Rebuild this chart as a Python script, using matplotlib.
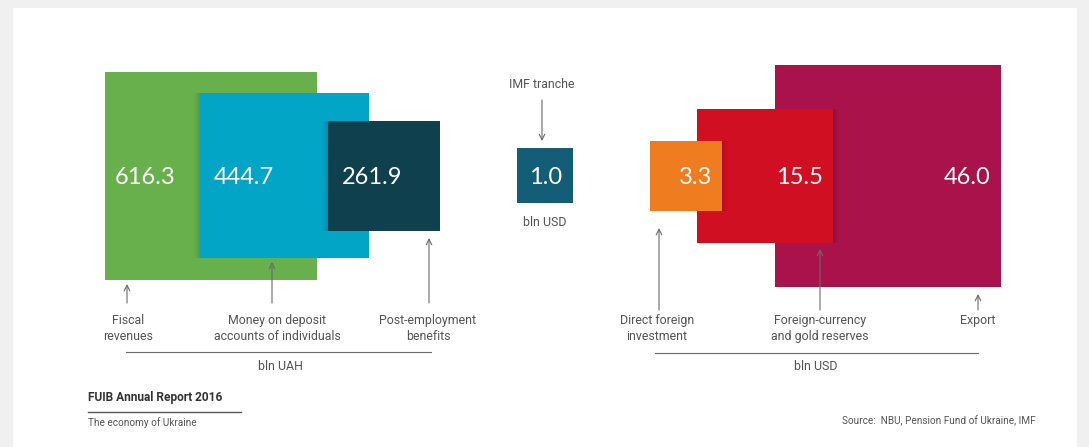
import matplotlib
matplotlib.use("Agg")
import matplotlib.pyplot as plt
from matplotlib.patches import Rectangle
from matplotlib import font_manager as fm

# ---------------- data ----------------
uah_labels = ["Fiscal\nrevenues", "Money on deposit\naccounts of individuals", "Post-employment\nbenefits"]
uah_values = [616.3, 444.7, 261.9]
uah_unit = "bln UAH"

imf_label = "IMF tranche"
imf_value = 1.0
imf_unit = "bln USD"

usd_labels = ["Direct foreign\ninvestment", "Foreign-currency\nand gold reserves", "Export"]
usd_values = [3.3, 15.5, 46.0]
usd_unit = "bln USD"

title = "FUIB Annual Report 2016"
subtitle = "The economy of Ukraine"
source = "Source:  NBU, Pension Fund of Ukraine, IMF"

# ---------------- layout / style (pixel coords, y down) ----------------
uah_colors = ["#67b04b", "#02a5c6", "#0e404d"]
usd_colors = ["#ef7c1e", "#d00f23", "#a9124a"]
imf_color = "#135e76"
txt_gray = "#555555"
line_gray = "#6a6a6a"

uah_boxes = [(105, 72, 317, 280), (200, 93, 369, 258), (328, 121, 440, 231)]
usd_boxes = [(650, 141, 722, 211), (697, 109, 833, 243), (775, 65, 1001, 287)]
imf_box = (517, 148, 573, 203)

uah_arrows = [(127, 303, 284), (272, 303, 262), (429, 303, 238)]
usd_arrows = [(659, 310, 228), (820, 310, 249), (978, 310, 294)]

avail = {f.name for f in fm.fontManager.ttflist}
label_font = "Roboto" if "Roboto" in avail else "Liberation Sans"
numfont = "Lato" if "Lato" in avail else "DejaVu Sans"
LBL = 8.9

W, H = 1089, 447
fig = plt.figure(figsize=(W / 100, H / 100), dpi=100)
fig.patch.set_facecolor("#f0f0f0")
ax = fig.add_axes([0, 0, 1, 1])
ax.set_xlim(0, W)
ax.set_ylim(H, 0)
ax.axis("off")

ax.add_patch(Rectangle((13, 8), 1077 - 13, H - 8, facecolor="white", edgecolor="none", zorder=0))


def shadow(box, side, z):
    x0, y0, x1, y1 = box
    for i, a in enumerate([0.06, 0.04, 0.02]):
        w = 2 * (i + 1)
        if side == "left":
            ax.add_patch(Rectangle((x0 - w, y0), w, y1 - y0, facecolor="black", alpha=a,
                                   edgecolor="none", zorder=z - 0.5))
        else:
            ax.add_patch(Rectangle((x1, y0), w, y1 - y0, facecolor="black", alpha=a,
                                   edgecolor="none", zorder=z - 0.5))


def box(b, color, z):
    x0, y0, x1, y1 = b
    ax.add_patch(Rectangle((x0, y0), x1 - x0, y1 - y0, facecolor=color, edgecolor="none", zorder=z))


# UAH group (largest at bottom)
for i, (b, c) in enumerate(zip(uah_boxes, uah_colors)):
    if i > 0:
        shadow(b, "left", 2 + i)
    box(b, c, 2 + i)
    ax.text(b[0] + (10 if i == 0 else 14), 177, f"{uah_values[i]:.1f}", color="white",
            fontsize=17, family=numfont, ha="left", va="center", zorder=10)

# USD group (largest at bottom)
for i in reversed(range(3)):
    b = usd_boxes[i]
    z = 2 + (2 - i)
    if i < 2:
        shadow(b, "right", z)
    box(b, usd_colors[i], z)
    ax.text(b[2] - 10, 178, f"{usd_values[i]:.1f}", color="white",
            fontsize=17, family=numfont, ha="right", va="center", zorder=10)

# IMF
box(imf_box, imf_color, 3)
ax.text((imf_box[0] + imf_box[2]) / 2 + 1, 177, f"{imf_value:.1f}", color="white",
        fontsize=17, family=numfont, ha="center", va="center", zorder=10)
ax.text(542, 84, imf_label, color=txt_gray, fontsize=LBL, family=label_font, ha="center", va="center")
ax.text(545, 223, imf_unit, color=txt_gray, fontsize=LBL, family=label_font, ha="center", va="center")

aprops = dict(arrowstyle="->", lw=0.8, color=line_gray, shrinkA=0, shrinkB=0, mutation_scale=10)
ax.annotate("", xy=(542, 141), xytext=(542, 100), arrowprops=aprops)
for (x, yb, yt), lab in zip(uah_arrows, uah_labels):
    ax.annotate("", xy=(x, yt), xytext=(x, yb), arrowprops=aprops, zorder=11)
for (x, yb, yt), lab in zip(usd_arrows, usd_labels):
    ax.annotate("", xy=(x, yt), xytext=(x, yb), arrowprops=aprops, zorder=11)

uah_text_x = [128, 277, 428]
usd_text_x = [657, 820, 978]
for x, lab in zip(uah_text_x, uah_labels):
    ax.text(x, 314, lab, color=txt_gray, fontsize=LBL, family=label_font, ha="center", va="top",
            linespacing=1.3)
for x, lab in zip(usd_text_x, usd_labels):
    ax.text(x, 314, lab, color=txt_gray, fontsize=LBL, family=label_font, ha="center", va="top",
            linespacing=1.3)

ax.plot([126, 431], [352, 352], color=line_gray, lw=0.8)
ax.plot([655, 978], [353, 353], color=line_gray, lw=0.8)
ax.text(280, 367, uah_unit, color=txt_gray, fontsize=LBL, family=label_font, ha="center", va="center")
ax.text(816, 367, usd_unit, color=txt_gray, fontsize=LBL, family=label_font, ha="center", va="center")

# footer
ax.text(88, 397, title, color="#333333", fontsize=8.6, family=label_font, weight="bold",
        ha="left", va="center")
ax.plot([88, 241], [412, 412], color="#555555", lw=1.0)
ax.text(88, 423, subtitle, color=txt_gray, fontsize=7.2, family=label_font, ha="left", va="center")
ax.text(1036, 421, source, color=txt_gray, fontsize=7.2, family=label_font, ha="right", va="center")

fig.savefig("out.png", dpi=100, facecolor=fig.get_facecolor())
